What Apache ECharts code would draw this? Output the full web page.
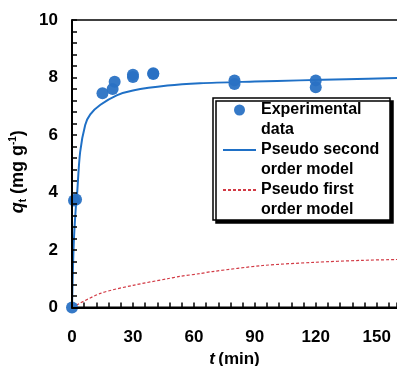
<!DOCTYPE html>
<html>
<head>
<meta charset="utf-8">
<script src="https://cdn.jsdelivr.net/npm/echarts@6/dist/echarts.min.js"></script>
<style>
html,body{margin:0;padding:0;background:#fff;}
#chart{width:397px;height:366px;}
</style>
</head>
<body>
<div id="chart"></div>
<script>
// Experimental data
var tExp = [0, 1, 2, 15, 20, 21, 30, 30, 40, 40, 80, 80, 120, 120];
var qExp = [0, 3.72, 3.76, 7.45, 7.6, 7.85, 8.02, 8.1, 8.15, 8.12, 7.9, 7.77, 7.9, 7.66];
// Pseudo second order model
var tPSO = [0, 0.5, 1, 2, 2.5, 4, 6.5, 9, 14, 22, 30, 47, 63, 90, 112, 135, 160];
var qPSO = [0, 1.45, 2.45, 3.6, 3.95, 5.4, 6.35, 6.72, 7.05, 7.38, 7.55, 7.72, 7.8, 7.86, 7.9, 7.94, 7.98];
// Pseudo first order model
var tPFO = [0, 14, 30, 47, 53, 63, 69, 94, 119, 143, 160];
var qPFO = [0, 0.49, 0.77, 1.0, 1.08, 1.18, 1.25, 1.46, 1.57, 1.64, 1.67];
// Axis ticks
var xTicks = [0, 30, 60, 90, 120, 150];
var yTicks = [0, 2, 4, 6, 8, 10];
var X_MAX = 160, Y_MAX = 10;

function zip(a, b) { return a.map(function (v, i) { return [v, b[i]]; }); }

var FONT = 'Liberation Sans';
var chart = echarts.init(document.getElementById('chart'));
chart.setOption({
  animation: false,
  textStyle: { fontFamily: FONT },
  grid: { left: 72, right: 0, top: 20, bottom: 58.5, outerBoundsMode: 'none' },
  xAxis: {
    type: 'value', min: 0, max: X_MAX, interval: 30, z: 10,
    name: '{i|t} {b|(min)}',
    nameLocation: 'middle', nameGap: 40,
    nameTextStyle: {
      rich: {
        i: { fontFamily: FONT, fontWeight: 'bold', fontStyle: 'italic', fontSize: 17, color: '#000' },
        b: { fontFamily: FONT, fontWeight: 'bold', fontSize: 17, color: '#000' }
      }
    },
    axisLine: { show: true, onZero: false, lineStyle: { color: '#000', width: 2 } },
    axisTick: { show: true, inside: true, length: 5, lineStyle: { color: '#000', width: 1.5 } },
    minorTick: { show: true, splitNumber: 5, length: 5, lineStyle: { color: '#000', width: 1.5 } },
    axisLabel: { margin: 21, color: '#000', fontWeight: 'bold', fontSize: 17, fontFamily: FONT,
      formatter: function (v) { return xTicks.indexOf(v) >= 0 ? String(v) : ''; } },
    splitLine: { show: false }
  },
  yAxis: {
    type: 'value', min: 0, max: Y_MAX, interval: 2, z: 10,
    name: '{i|q}{s|t}{b| (mg g}{p|-1}{b|)}',
    nameLocation: 'middle', nameGap: 40, nameRotate: 90,
    nameTextStyle: {
      lineHeight: 20,
      padding: [0, 16, 0, 0],
      rich: {
        i: { fontFamily: FONT, fontWeight: 'bold', fontStyle: 'italic', fontSize: 18, color: '#000', lineHeight: 20 },
        s: { fontFamily: FONT, fontWeight: 'bold', fontSize: 10, color: '#000', verticalAlign: 'bottom', lineHeight: 20 },
        b: { fontFamily: FONT, fontWeight: 'bold', fontSize: 18, color: '#000', lineHeight: 20 },
        p: { fontFamily: FONT, fontWeight: 'bold', fontSize: 10, color: '#000', verticalAlign: 'top', lineHeight: 20 }
      }
    },
    axisLine: { show: true, onZero: false, lineStyle: { color: '#000', width: 2 } },
    axisTick: { show: true, inside: true, length: 5, lineStyle: { color: '#000', width: 1.5 } },
    minorTick: { show: true, splitNumber: 5, length: 5, lineStyle: { color: '#000', width: 1.5 } },
    axisLabel: { margin: 14, color: '#000', fontWeight: 'bold', fontSize: 17, fontFamily: FONT,
      formatter: function (v) { return yTicks.indexOf(v) >= 0 ? String(v) : ''; } },
    splitLine: { show: false }
  },
  graphic: [{
    id: 'legendBox', type: 'rect', z: 50,
    shape: { x: 213, y: 98, width: 177, height: 122 },
    style: { fill: '#fff', stroke: '#000', lineWidth: 1.5,
      shadowColor: '#000', shadowOffsetX: 3, shadowOffsetY: 3, shadowBlur: 0 }
  }],
  legend: {
    orient: 'vertical', left: 222, top: 80, padding: 0, z: 60,
    itemWidth: 33, itemHeight: 11, itemGap: -20,
    formatter: function (name) { return ' \n' + name; },
    textStyle: { fontFamily: FONT, fontWeight: 'bold', fontSize: 16, color: '#000', lineHeight: 20 },
    data: [
      { name: 'Experimental\ndata' },
      { name: 'Pseudo second\norder model', itemStyle: { color: 'rgba(0,0,0,0)', borderWidth: 0 } },
      { name: 'Pseudo first\norder model', itemStyle: { color: 'rgba(0,0,0,0)', borderWidth: 0 } }
    ]
  },
  series: [{
    name: 'Pseudo first\norder model', type: 'line', data: zip(tPFO, qPFO),
    symbol: 'none', smooth: 0.3, z: 3,
    lineStyle: { color: '#d23a45', width: 1.2, type: [3, 2] }, itemStyle: { color: '#d23a45' }
  }, {
    name: 'Pseudo second\norder model', type: 'line', data: zip(tPSO, qPSO),
    symbol: 'none', smooth: 0.3, z: 3,
    lineStyle: { color: '#1f70c6', width: 2 }, itemStyle: { color: '#1f70c6' }
  }, {
    name: 'Experimental\ndata', type: 'scatter', data: zip(tExp, qExp),
    symbol: 'circle', symbolSize: 12, z: 4,
    itemStyle: { color: '#2a72c4', opacity: 0.95 }
  }]
});

// Plot frame (left, bottom, top edges) derived from the axes' own scales
var f = { xAxisIndex: 0, yAxisIndex: 0 };
var p00 = chart.convertToPixel(f, [0, 0]);
var pMax = chart.convertToPixel(f, [X_MAX, Y_MAX]);
chart.setOption({
  graphic: [
    { id: 'frameLeft', type: 'line', z: 2, silent: true,
      shape: { x1: p00[0], y1: pMax[1], x2: p00[0], y2: p00[1] },
      style: { stroke: '#000', lineWidth: 2 } },
    { id: 'frameBottom', type: 'line', z: 2, silent: true,
      shape: { x1: p00[0], y1: p00[1], x2: pMax[0], y2: p00[1] },
      style: { stroke: '#000', lineWidth: 2 } },
    { id: 'frameTop', type: 'line', z: 2, silent: true,
      shape: { x1: p00[0], y1: pMax[1], x2: pMax[0], y2: pMax[1] },
      style: { stroke: '#000', lineWidth: 1.5 } }
  ]
});
</script>
</body>
</html>
